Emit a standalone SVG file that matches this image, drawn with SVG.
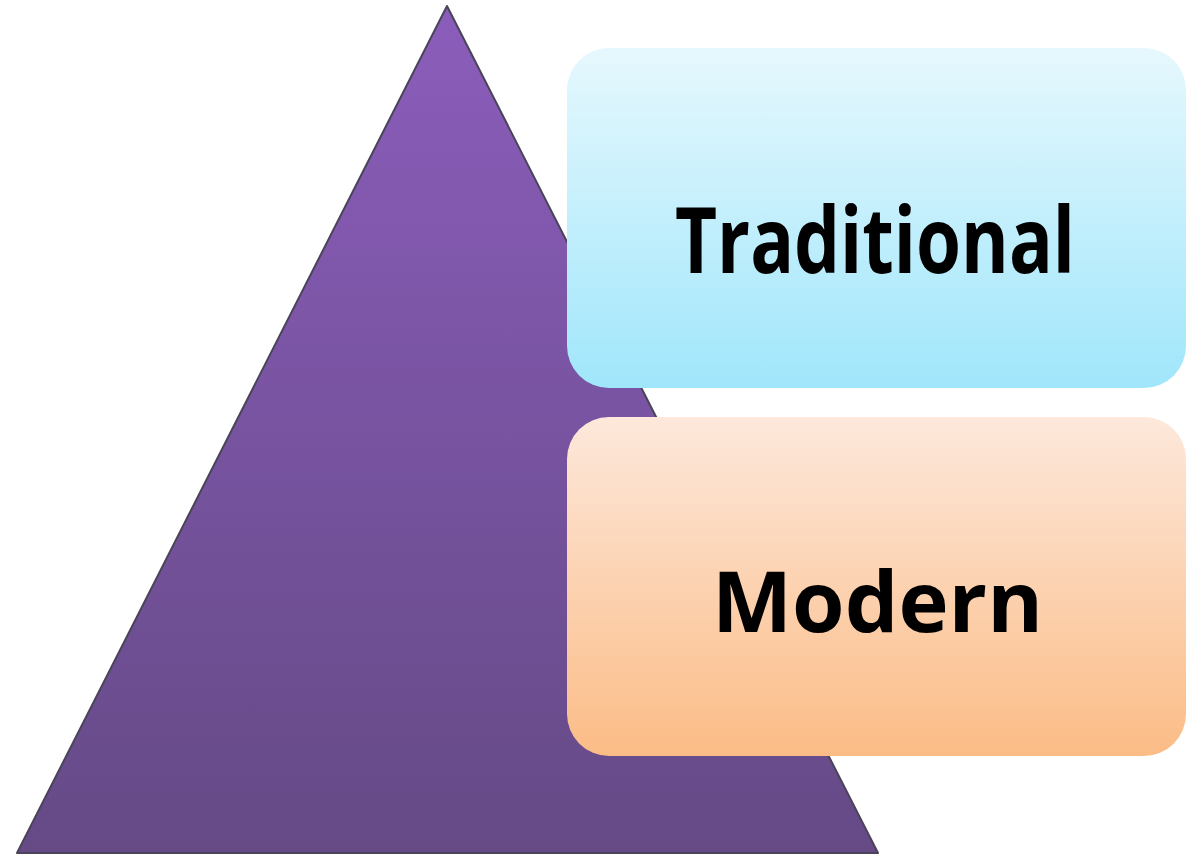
<svg xmlns="http://www.w3.org/2000/svg" width="1186" height="855" viewBox="0 0 1186 855">
<defs>
<linearGradient id="gTri" x1="0" y1="0" x2="0" y2="1">
<stop offset="0" stop-color="#8b5dbb"/>
<stop offset="1" stop-color="#654a86"/>
</linearGradient>
<linearGradient id="gBlue" x1="0" y1="0" x2="0" y2="1">
<stop offset="0" stop-color="#e6f8fd"/>
<stop offset="1" stop-color="#a0e6fb"/>
</linearGradient>
<linearGradient id="gPeach" x1="0" y1="0" x2="0" y2="1">
<stop offset="0" stop-color="#fde8db"/>
<stop offset="1" stop-color="#fbbc86"/>
</linearGradient>
</defs>
<style>
.lbl{font-family:"Open Sans","Liberation Sans",sans-serif;font-weight:bold;fill:#000;}
</style>
<rect width="1186" height="855" fill="#ffffff"/>
<g id="pyramid">
<polygon points="447,6 878,853 17,853" fill="url(#gTri)" stroke="#4a4458" stroke-width="2" stroke-linejoin="round"/>
</g>
<g id="traditional">
<rect x="567" y="48" width="619" height="340" rx="42" ry="42" fill="url(#gBlue)"/>
<text class="lbl" x="675" y="273" font-size="91" textLength="400" lengthAdjust="spacingAndGlyphs">Traditional</text>
</g>
<g id="modern">
<rect x="567" y="417" width="619" height="339" rx="42" ry="42" fill="url(#gPeach)"/>
<text class="lbl" x="712" y="632" font-size="84" textLength="331" lengthAdjust="spacingAndGlyphs">Modern</text>
</g>
<g id="connectors"/>
</svg>
